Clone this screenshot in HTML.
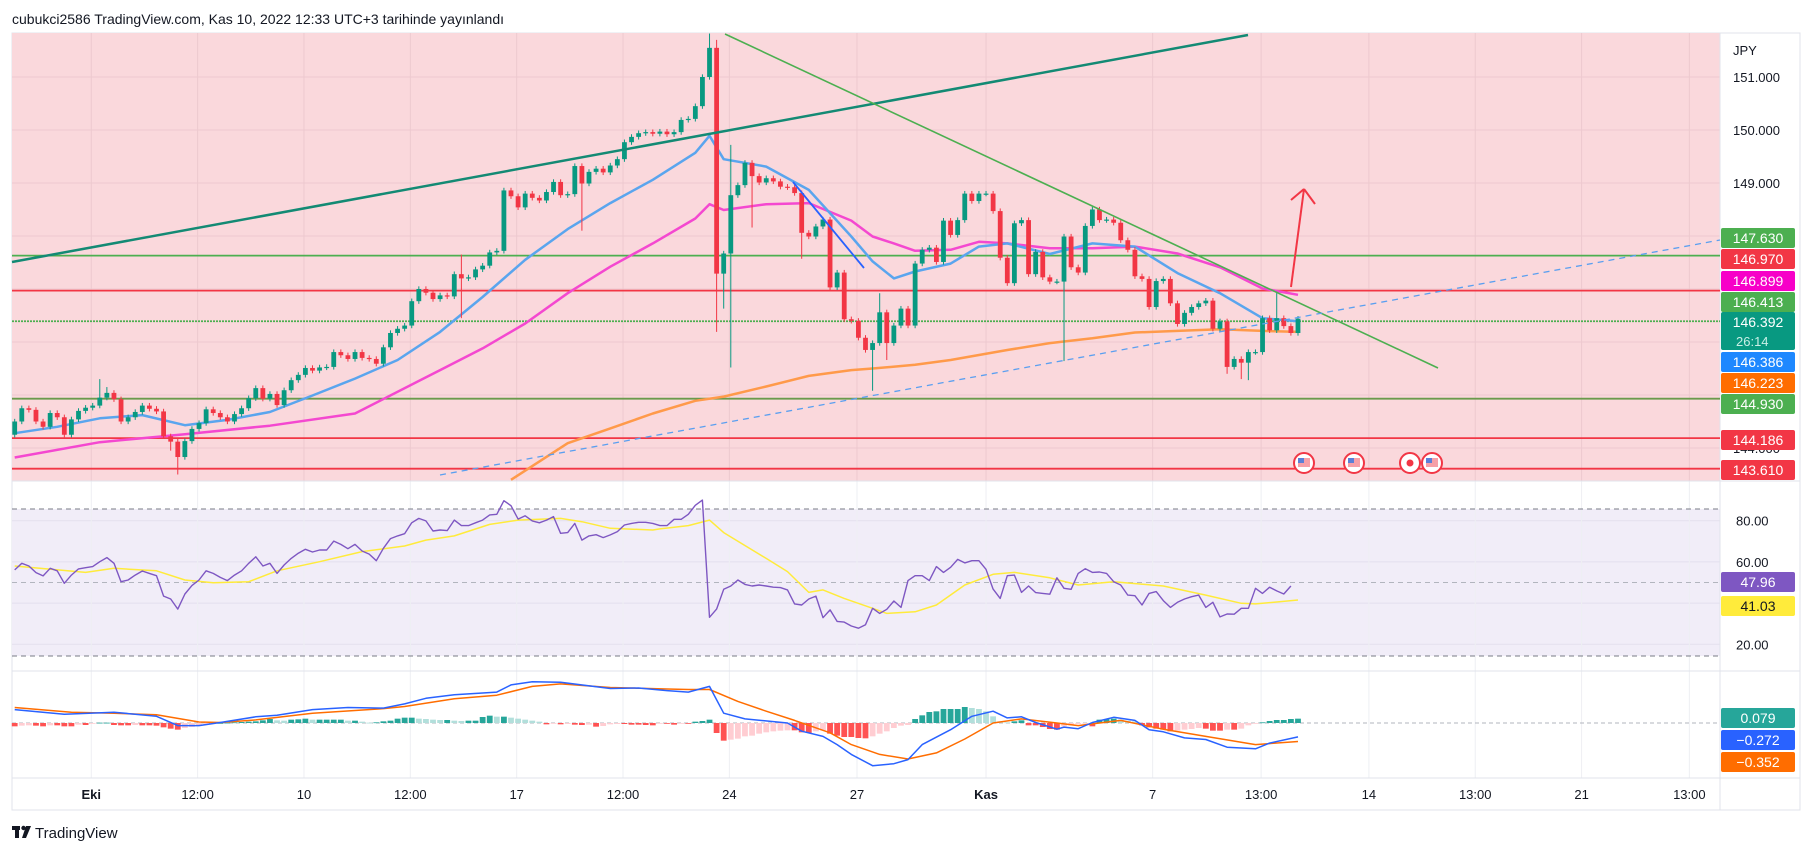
<!DOCTYPE html>
<html><head><meta charset="utf-8"><style>
html,body{margin:0;padding:0;background:#fff;width:1814px;height:855px;overflow:hidden}
svg{display:block}
text{font-family:"Liberation Sans",sans-serif}
</style></head><body>
<svg id="c" width="1814" height="855" xmlns="http://www.w3.org/2000/svg">
<text x="12" y="24" font-size="14" fill="#131722">cubukci2586 TradingView.com, Kas 10, 2022 12:33 UTC+3 tarihinde yayınlandı</text>
<rect x="12" y="33" width="1788" height="777" fill="#fff" stroke="#e0e3eb"/>
<rect x="12" y="33" width="1708" height="448" fill="#fad8dc"/>
<rect x="12" y="509" width="1708" height="147" fill="#f1edf8"/>
<g id="grid"></g>
<line x1="12" y1="481" x2="1800" y2="481" stroke="#e0e3eb"/>
<line x1="12" y1="671" x2="1800" y2="671" stroke="#e0e3eb"/>
<line x1="1720" y1="33" x2="1720" y2="810" stroke="#e0e3eb"/>
<line x1="12" y1="778" x2="1800" y2="778" stroke="#e0e3eb"/>
<g id="hlines"></g>
<g id="mas"></g>
<g id="candles"></g>
<g id="drawings"></g>
<g id="rsi"></g>
<g id="macd"></g>
<g id="axes"></g>
<g>
<rect x="12" y="826" width="8" height="4" fill="#131722"/><rect x="15" y="826" width="4" height="12" fill="#131722"/><circle cx="23.5" cy="828" r="2.2" fill="#131722"/><path d="M26 826 L31 826 L26 838 L22 838 Z" fill="#131722"/>
<text x="35" y="838" font-size="15" fill="#131722">TradingView</text>
</g>
</svg>
<script>
const closes=[144.50,144.75,144.72,144.50,144.40,144.66,144.58,144.25,144.54,144.70,
144.76,144.80,144.95,145.04,144.92,144.50,144.58,144.68,144.80,144.74,
144.69,144.22,144.12,143.83,144.13,144.36,144.47,144.73,144.66,144.58,
144.50,144.64,144.75,144.94,145.13,144.93,145.02,144.81,145.09,145.28,
145.38,145.51,145.46,145.52,145.53,145.81,145.75,145.68,145.81,145.70,
145.68,145.59,145.90,146.17,146.25,146.31,146.77,147.00,146.93,146.81,
146.88,146.86,
147.28,147.20,147.22,147.37,147.44,147.69,147.72,148.86,148.75,148.54,
148.80,148.72,148.67,148.83,149.02,148.77,148.79,149.32,148.99,149.21,
149.27,149.20,149.33,149.45,149.77,149.87,149.94,149.96,149.93,149.97,
149.92,149.96,150.19,150.21,150.45,151.00,151.55,147.29,147.67,148.77,
148.96,149.38,149.13,149.01,149.09,149.03,148.93,148.92,148.81,148.06,
147.99,148.18,148.31,147.03,147.31,146.43,146.40,146.08,145.85,145.98,
146.56,
145.98,146.31,146.63,146.31,147.48,147.74,147.78,147.51,148.29,148.02,
148.30,148.80,148.66,148.80,148.80,148.47,147.59,147.11,148.24,148.30,
147.28,147.70,147.22,147.14,147.14,147.99,147.41,147.31,148.19,148.50,
148.30,148.31,148.25,147.92,147.74,147.24,147.19,146.66,147.15,147.19,
146.73,146.34,146.55,146.66,146.73,146.78,146.25,146.39,145.53,145.68,
145.61,145.81,145.81,146.45,146.22,146.45,146.30,146.17,146.44];
const firstOpen=144.25;
const wickHigh=[[12,145.30],[13,145.15],[63,147.65],[98,151.82],[99,151.70],[101,149.72],[122,146.92],[178,146.95]];
const wickLow=[[22,143.95],[23,143.50],[63,146.45],[80,148.10],[99,146.19],[100,146.63],[101,145.52],[104,148.16],[111,147.57],[121,145.08],[123,145.66],[148,145.64],[171,145.40],[173,145.30],[174,145.28]];
const blueIdx=[0,6,12,18,24,30,36,42,48,54,60,66,72,78,84,90,96,98,100,106,112,118,121,124,127,132,136,140,146,152,158,164,170,176,181];
const blueVal=[144.28,144.40,144.56,144.62,144.43,144.53,144.68,144.99,145.31,145.66,146.19,146.85,147.55,148.13,148.62,149.06,149.57,149.89,149.45,149.31,148.87,147.99,147.52,147.20,147.33,147.48,147.80,147.86,147.66,147.86,147.80,147.30,146.92,146.45,146.39];
const pinkIdx=[0,12,24,36,48,60,66,72,78,84,90,96,98,100,106,112,118,121,124,127,132,136,140,146,152,158,164,170,176,181];
const pinkVal=[143.82,144.11,144.26,144.42,144.65,145.47,145.88,146.35,146.92,147.42,147.86,148.33,148.60,148.49,148.60,148.62,148.29,147.99,147.86,147.72,147.74,147.89,147.86,147.77,147.77,147.80,147.67,147.41,147.01,146.89];
const orangeIdx=[70,78,84,90,96,100,106,112,118,121,127,132,140,146,152,158,164,170,176,181];
const orangeVal=[143.40,144.09,144.37,144.65,144.89,144.97,145.16,145.36,145.47,145.50,145.57,145.66,145.85,145.98,146.07,146.18,146.21,146.24,146.21,146.19];
const rsiVal=[56.1,59.3,58.0,54.8,53.2,56.9,55.7,49.6,53.6,56.6,57.2,57.7,60.1,62.1,59.3,50.4,51.2,53.6,55.6,54.4,
53.3,43.4,42.0,37.1,44.4,48.5,51.2,55.7,54.4,52.5,50.9,53.6,55.7,59.3,62.5,58.0,59.3,54.4,58.5,61.7,
64.2,66.1,64.8,65.8,65.8,70.1,68.5,66.4,68.5,65.3,63.8,60.6,66.6,71.3,72.6,73.7,79.0,81.1,79.9,75.0,
75.5,75.2,80.3,77.6,77.6,79.0,80.3,82.8,83.1,89.7,87.3,80.8,82.4,79.9,79.0,80.3,82.0,73.9,74.2,78.7,
70.6,72.6,73.2,71.8,73.1,74.7,77.9,78.7,79.2,79.2,
78.7,77.6,77.6,80.7,80.7,83.1,87.5,90.0,33.1,37.1,46.7,48.3,51.2,49.1,48.3,48.8,48.3,47.7,47.5,46.4,
39.6,39.1,42.0,43.4,32.9,36.7,31.1,30.8,28.9,27.8,29.5,37.5,35.0,37.0,41.0,37.9,50.9,53.3,53.3,50.9,
57.7,54.9,57.4,61.2,59.5,60.6,60.6,56.4,46.8,42.3,53.3,53.6,45.2,48.3,45.1,44.7,44.3,52.3,47.2,46.7,
54.4,56.7,54.9,55.1,54.4,50.4,48.8,43.9,43.6,39.1,44.7,45.6,41.2,37.9,40.4,42.0,43.1,43.9,37.9,40.4,
33.3,34.7,34.6,37.5,37.5,47.2,44.7,47.7,45.9,44.4,48.3];
const rsiMaIdx=[0,10,14,20,24,28,33,37,43,49,55,58,62,67,71,77,80,84,90,91,95,98,100,106,109,112,114,117,121,123,127,130,134,138,141,146,150,155,162,168,173,175,181];
const rsiMaVal=[58.0,54.9,56.9,55.7,51.2,49.9,50.4,55.7,60.1,65.0,67.7,70.6,72.6,78.2,80.3,81.1,79.5,76.3,75.5,76.0,77.6,80.3,74.2,61.7,55.3,45.2,46.4,42.3,37.5,35.0,35.8,39.1,48.8,54.0,54.9,52.3,48.8,50.4,48.3,43.9,39.9,39.6,41.5];
const macdIdx=[0,7,14,20,23,26,29,34,37,42,47,52,55,58,62,68,70,73,77,84,88,92,95,98,100,103,109,111,114,116,118,121,124,126,128,132,135,138,140,142,144,147,148,150,152,155,158,160,162,165,168,171,175,177,181];
const macdVal=[0.26,0.17,0.21,0.13,-0.05,-0.05,0.01,0.12,0.15,0.26,0.30,0.29,0.37,0.48,0.55,0.60,0.74,0.80,0.79,0.67,0.68,0.63,0.60,0.71,0.19,0.08,0.00,-0.16,-0.26,-0.42,-0.61,-0.83,-0.79,-0.71,-0.42,-0.13,0.13,0.23,0.10,0.12,0.01,-0.12,-0.08,-0.11,0.01,0.11,0.05,-0.13,-0.17,-0.29,-0.32,-0.47,-0.50,-0.39,-0.27];
const sigIdx=[0,8,14,20,26,29,34,42,52,55,62,68,73,77,84,92,95,98,102,106,110,115,118,122,126,130,134,138,142,147,150,156,162,168,175,181];
const sigVal=[0.30,0.21,0.19,0.16,0.02,0.01,0.06,0.19,0.28,0.32,0.47,0.54,0.71,0.76,0.69,0.66,0.65,0.65,0.42,0.23,0.05,-0.19,-0.42,-0.61,-0.70,-0.58,-0.31,0.00,0.08,0.00,-0.05,0.05,-0.12,-0.26,-0.42,-0.36];
const histZy=[200,198,197,198,200,197,197,200,200,195,196,192,189,189,196,197,197,196,197,197,
198,203,207,210,205,202,198,194,191,190,189,188,187,186,185,182,178,182,183,180,
179,177,180,180,180,180,180,183,183,186,189,188,185,183,177,174,174,177,178,180,
181,181,183,184,183,183,172,168,171,171,174,177,180,183,186,194,192,194,193,195,
196,195,201,199,194,193,193,195,195,196,197,
192,192,195,192,192,186,184,180,220,243,240,237,230,228,222,218,215,213,212,212,
218,220,215,212,222,228,232,232,235,236,230,222,215,205,198,196,178,167,157,155,
148,148,148,142,145,148,155,170,185,188,185,182,197,197,202,208,210,200,197,193,
192,200,180,178,177,180,183,185,197,203,207,210,215,213,210,208,205,207,213,213,
210,210,207,197,192,188,184,181,181,178,177];
const timeLabels=["Eki","12:00","10","12:00","17","12:00","24","27","Kas","7","13:00","14","13:00","21","13:00"];
const timeBars=[10.8,25.8,40.8,55.8,70.8,85.8,100.8,118.8,137,160.5,175.8,191,206,221,236.2];
const priceTicks=[151,150,149,148,147,146,145,144];

const NS="http://www.w3.org/2000/svg";
const X=i=>14.7+7.09*i;
const Yp=p=>77+(151-p)*53;
const Yr=v=>582.5-(v-50)*2.06;
const Ym=v=>723-v*51.5;
function mk(parent,tag,attrs){const e=document.createElementNS(NS,tag);for(const k in attrs)e.setAttribute(k,attrs[k]);document.getElementById(parent).appendChild(e);return e;}

// grid
priceTicks.forEach(p=>{const l=mk('grid','line',{x1:12,x2:1720,y1:Yp(p),y2:Yp(p),stroke:'#edc9cf','stroke-width':1});

});
[80,60,40,20].forEach(v=>{const l=mk('grid','line',{x1:12,x2:1720,y1:Yr(v),y2:Yr(v),stroke:'#e4e0ee'});

});
timeBars.forEach((b,k)=>{const x=X(b);
const l=mk('grid','line',{x1:x,x2:x,y1:33,y2:481,stroke:'#edc9cf'});


const l2=mk('grid','line',{x1:x,x2:x,y1:481,y2:778,stroke:'#eeeff3'});


const t=mk('axes','text',{x:x,y:799,'font-size':13,'text-anchor':'middle',fill:'#131722','font-weight':(timeLabels[k]==='Eki'||timeLabels[k]==='Kas')?'bold':'normal'});
t.textContent=timeLabels[k];

});

// horizontal levels
[[147.63,'#4caf50',''],[146.97,'#f23645',''],[146.392,'#4caf50','2,1'],[144.93,'#6a9a4c',''],[144.186,'#f23645',''],[143.61,'#f23645','']].forEach(h=>{
const l=mk('hlines','line',{x1:12,x2:1720,y1:Yp(h[0]),y2:Yp(h[0]),stroke:h[1],'stroke-width':1.8,'stroke-dasharray':h[2]});

});

// MAs
function line(parent,idx,val,yf,color,w,name){const pts=idx.map((i,k)=>X(i).toFixed(1)+','+yf(val[k]).toFixed(1)).join(' ');
const p=mk(parent,'polyline',{points:pts,fill:'none',stroke:color,'stroke-width':w,'stroke-linejoin':'round'});

return p;}
line('mas',orangeIdx,orangeVal,Yp,'#ff9a4a',2.5,'ema-200');
line('mas',pinkIdx,pinkVal,Yp,'#f448d0',2.5,'ema-50');
line('mas',blueIdx,blueVal,Yp,'#5aa5ee',2.5,'ema-20');

// candles
const hiMap={},loMap={};wickHigh.forEach(w=>hiMap[w[0]]=w[1]);wickLow.forEach(w=>loMap[w[0]]=w[1]);
closes.forEach((c,i)=>{const o=i===0?firstOpen:closes[i-1];const up=c>=o;const col=up?'#089981':'#f23645';
const hi=hiMap[i]!==undefined?hiMap[i]:Math.max(o,c)+0.05;const lo=loMap[i]!==undefined?loMap[i]:Math.min(o,c)-0.05;
const x=X(i);
const w=mk('candles','line',{x1:x,x2:x,y1:Yp(hi),y2:Yp(lo),stroke:col,'stroke-width':1});


const y1=Yp(Math.max(o,c)),y2=Yp(Math.min(o,c));
const b=mk('candles','rect',{x:x-2.4,y:y1,width:4.8,height:Math.max(1.2,y2-y1),fill:col});

});

// drawings
const dr=[[12,262,1248,35,'#138a74',2.5,'','uptrend-line'],[725,34,1438,368,'#4caf50',1.6,'','downtrend-line'],[440,475,1720,240,'#5a9ff0',1.3,'6,5','dashed-trend-line'],[793,182,864,268,'#2962ff',1.8,'','short-blue-line'],[1291,287,1304,189,'#f23645',2,'','arrow-shaft'],[1304,189,1291,200,'#f23645',2,'','arrow-head-left'],[1304,189,1315,204,'#f23645',2,'','arrow-head-right']];
dr.forEach(d=>{const l=mk('drawings','line',{x1:d[0],y1:d[1],x2:d[2],y2:d[3],stroke:d[4],'stroke-width':d[5],'stroke-dasharray':d[6]});

});
[1304,1354,1410,1432].forEach((x,k)=>{const g=mk('drawings','circle',{cx:x,cy:463,r:10,fill:'#fff',stroke:'#f23645','stroke-width':2});


if(k===2){const d=mk('drawings','circle',{cx:x,cy:463,r:3.5,fill:'#f23645'});

}
else{const f=mk('drawings','rect',{x:x-6,y:458,width:12,height:9,fill:'#f6a0a8'});


const f2=mk('drawings','rect',{x:x-6,y:458,width:6,height:5,fill:'#5a7fd8'});

}});

// RSI
[509,582.5,656].forEach(y=>{const l=mk('rsi','line',{x1:12,x2:1720,y1:y,y2:y,stroke:y===582.5?'#b2b5be':'#787b86','stroke-dasharray':'5,4'});

});
line('rsi',rsiMaIdx,rsiMaVal,Yr,'#ffeb3b',1.5,'rsi-ma-line');
line('rsi',rsiVal.map((v,i)=>i),rsiVal,Yr,'#7e57c2',1.4,'rsi-line');

// MACD
const z=mk('macd','line',{x1:12,x2:1720,y1:723,y2:723,stroke:'#b2b5be','stroke-dasharray':'4,3'});


histZy.forEach((zy,i)=>{const v=(190-zy)/154.5;const pv=i>0?(190-histZy[i-1])/154.5:v;
let col=v>=0?(v>=pv?'#26a69a':'#b2dfdb'):(v<=pv?'#ff5252':'#ffcdd2');
const y=Ym(Math.max(v,0)),h=Math.max(0.8,Math.abs(v)*51.5);
const r=mk('macd','rect',{x:X(i)-2.9,y:y,width:5.8,height:h,fill:col});

});
line('macd',sigIdx,sigVal,Ym,'#ff6d00',1.5,'macd-signal-line');
line('macd',macdIdx,macdVal,Ym,'#2962ff',1.5,'macd-line');

// axis labels
function lab(txt,y,bg,fg,name,h){const r=mk('axes','rect',{x:1721,y:y-(h||20)/2,width:74,height:h||20,rx:2,fill:bg});


const t=mk('axes','text',{x:1758,y:y+5-((h||20)>20?9:0),'font-size':14,'text-anchor':'middle',fill:fg});
t.textContent=txt;

return r;}
function plain(txt,x,y,name){const t=mk('axes','text',{x:x,y:y,'font-size':13,fill:'#131722'});t.textContent=txt;

}
plain('JPY',1733,55,'currency-label');
[151,150,149,144].forEach(p=>plain(p.toFixed(3),1733,Yp(p)+5,'price-tick-label'));
[80,60,20].forEach(v=>plain(v.toFixed(2),1736,Yr(v)+5,'rsi-tick-label'));
lab('147.630',238,'#4caf50','#fff','label-147630');
lab('146.970',259,'#f23645','#fff','label-146970');
lab('146.899',281,'#f700c8','#fff','label-146899');
lab('146.413',302,'#4caf50','#fff','label-146413');
lab('146.392',331,'#089981','#fff','label-current-price',38);
const cd=mk('axes','text',{x:1736,y:346,'font-size':13,fill:'#c9efe6'});cd.textContent='26:14';


lab('146.386',362,'#1e88ff','#fff','label-146386');
lab('146.223',383,'#ff6d00','#fff','label-146223');
lab('144.930',404,'#4caf50','#fff','label-144930');
lab('144.186',440,'#f23645','#fff','label-144186');
lab('143.610',470,'#f23645','#fff','label-143610');
lab('47.96',582,'#7e57c2','#fff','rsi-value-label');
lab('41.03',606,'#ffeb3b','#131722','rsi-ma-value-label');
lab('0.079',718,'#26a69a','#fff','macd-hist-value-label');
lab('\u22120.272',740,'#2962ff','#fff','macd-value-label');
lab('\u22120.352',762,'#ff6d00','#fff','macd-signal-value-label');
</script>
</body></html>
